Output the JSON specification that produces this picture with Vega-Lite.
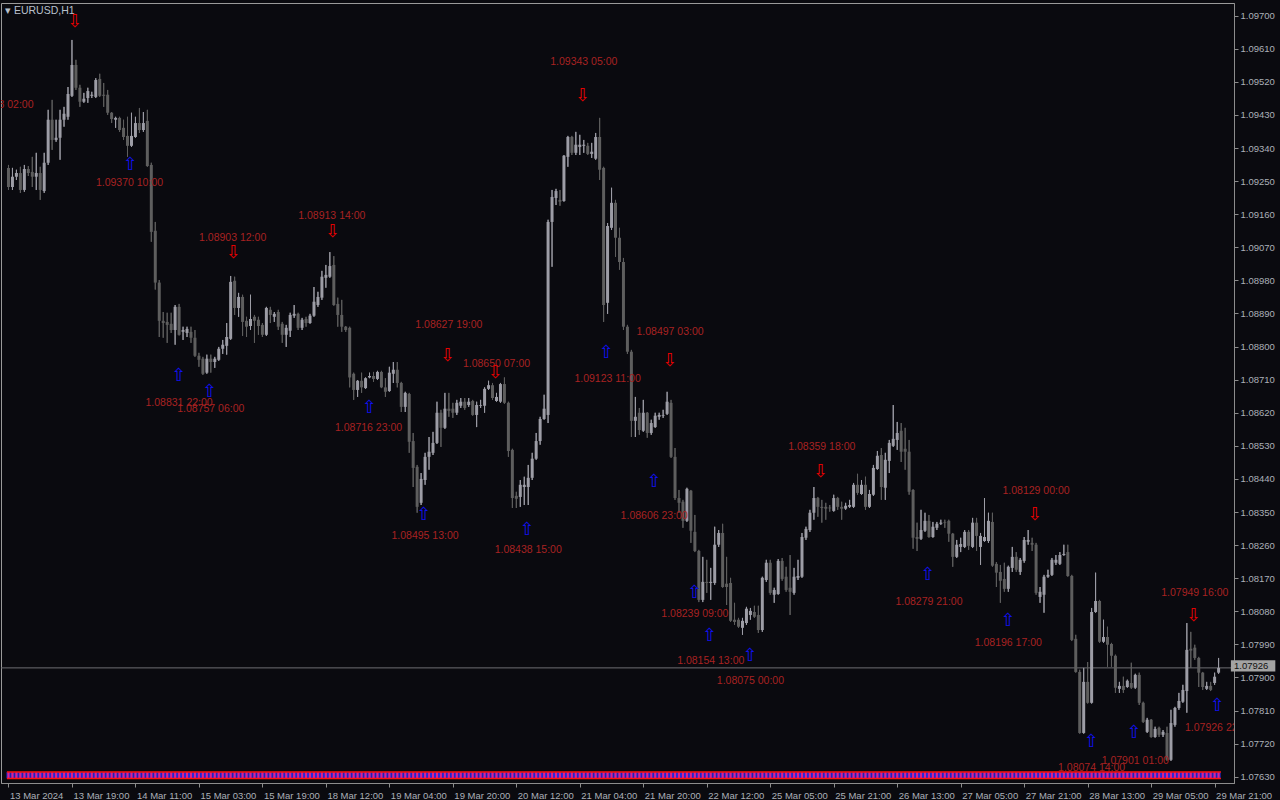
{
"$schema":"https://vega.github.io/schema/vega-lite/v6.json",
"width":1233,"height":780,
"autosize":"none",
"padding":{"left":1,"top":3,"right":46,"bottom":17},
"background":"#0a0a0f",
"title":{"text":"▾   EURUSD,H1","anchor":"start","frame":"group","orient":"top","offset":-18,"dx":4,"baseline":"middle","fontSize":10.5,"font":"Liberation Sans","fontWeight":"normal","color":"#b8c0cc"},
"config":{"view":{"stroke":"#9a9a9a","strokeWidth":1},"axis":{"grid":false,"domainColor":"#8c8c8c","tickColor":"#8c8c8c","labelColor":"#aab0b8","labelFont":"Liberation Sans","labelFontSize":9.5,"tickSize":4,"title":null,"labelOverlap":false}},
"datasets":{
"c":[
{"i":0,"o":1.09286,"h":1.09294,"l":1.09226,"c":1.09234},
{"i":1,"o":1.09234,"h":1.09286,"l":1.09226,"c":1.09262},
{"i":2,"o":1.09262,"h":1.09281,"l":1.09253,"c":1.09272},
{"i":3,"o":1.09272,"h":1.09289,"l":1.09218,"c":1.09226},
{"i":4,"o":1.09226,"h":1.09294,"l":1.09221,"c":1.09283},
{"i":5,"o":1.09283,"h":1.09291,"l":1.09264,"c":1.09272},
{"i":6,"o":1.09275,"h":1.09316,"l":1.09234,"c":1.09262},
{"i":7,"o":1.09262,"h":1.09327,"l":1.09226,"c":1.09272},
{"i":8,"o":1.09272,"h":1.09289,"l":1.09199,"c":1.09226},
{"i":9,"o":1.09223,"h":1.09327,"l":1.09218,"c":1.09300},
{"i":10,"o":1.09300,"h":1.09444,"l":1.09294,"c":1.09417},
{"i":11,"o":1.09417,"h":1.09471,"l":1.09335,"c":1.09362},
{"i":12,"o":1.09362,"h":1.09417,"l":1.09357,"c":1.09368},
{"i":13,"o":1.09368,"h":1.09444,"l":1.09308,"c":1.09417},
{"i":14,"o":1.09417,"h":1.09452,"l":1.09398,"c":1.09433},
{"i":15,"o":1.09425,"h":1.09506,"l":1.09417,"c":1.09487},
{"i":16,"o":1.09482,"h":1.09634,"l":1.09479,"c":1.09566},
{"i":17,"o":1.09566,"h":1.09580,"l":1.09498,"c":1.09504},
{"i":18,"o":1.09504,"h":1.09512,"l":1.09452,"c":1.09466},
{"i":19,"o":1.09466,"h":1.09490,"l":1.09463,"c":1.09474},
{"i":20,"o":1.09476,"h":1.09504,"l":1.09463,"c":1.09495},
{"i":21,"o":1.09482,"h":1.09493,"l":1.09476,"c":1.09485},
{"i":22,"o":1.09479,"h":1.09530,"l":1.09476,"c":1.09525},
{"i":23,"o":1.09528,"h":1.09542,"l":1.09479,"c":1.09482},
{"i":24,"o":1.09485,"h":1.09517,"l":1.09452,"c":1.09482},
{"i":25,"o":1.09485,"h":1.09498,"l":1.09430,"c":1.09436},
{"i":26,"o":1.09436,"h":1.09438,"l":1.09408,"c":1.09419},
{"i":27,"o":1.09417,"h":1.09425,"l":1.09395,"c":1.09422},
{"i":28,"o":1.09422,"h":1.09425,"l":1.09384,"c":1.09389},
{"i":29,"o":1.09395,"h":1.09417,"l":1.09362,"c":1.09370},
{"i":30,"o":1.09373,"h":1.09425,"l":1.09316,"c":1.09346},
{"i":31,"o":1.09346,"h":1.09436,"l":1.09343,"c":1.09373},
{"i":32,"o":1.09370,"h":1.09425,"l":1.09368,"c":1.09408},
{"i":33,"o":1.09408,"h":1.09449,"l":1.09381,"c":1.09389},
{"i":34,"o":1.09389,"h":1.09438,"l":1.09384,"c":1.09408},
{"i":35,"o":1.09414,"h":1.09444,"l":1.09289,"c":1.09291},
{"i":36,"o":1.09294,"h":1.09300,"l":1.09085,"c":1.09112},
{"i":37,"o":1.09115,"h":1.09139,"l":1.08955,"c":1.08974},
{"i":38,"o":1.08974,"h":1.08981,"l":1.08826,"c":1.08870},
{"i":39,"o":1.08870,"h":1.08894,"l":1.08824,"c":1.08864},
{"i":40,"o":1.08867,"h":1.08892,"l":1.08810,"c":1.08859},
{"i":41,"o":1.08862,"h":1.08892,"l":1.08837,"c":1.08845},
{"i":42,"o":1.08845,"h":1.08913,"l":1.08805,"c":1.08908},
{"i":43,"o":1.08908,"h":1.08916,"l":1.08830,"c":1.08832},
{"i":44,"o":1.08840,"h":1.08854,"l":1.08818,"c":1.08845},
{"i":45,"o":1.08837,"h":1.08854,"l":1.08826,"c":1.08848},
{"i":46,"o":1.08840,"h":1.08854,"l":1.08810,"c":1.08824},
{"i":47,"o":1.08824,"h":1.08845,"l":1.08772,"c":1.08775},
{"i":48,"o":1.08775,"h":1.08783,"l":1.08745,"c":1.08764},
{"i":49,"o":1.08767,"h":1.08772,"l":1.08723,"c":1.08726},
{"i":50,"o":1.08729,"h":1.08778,"l":1.08726,"c":1.08767},
{"i":51,"o":1.08767,"h":1.08778,"l":1.08729,"c":1.08758},
{"i":52,"o":1.08758,"h":1.08772,"l":1.08742,"c":1.08767},
{"i":53,"o":1.08764,"h":1.08799,"l":1.08761,"c":1.08794},
{"i":54,"o":1.08794,"h":1.08818,"l":1.08780,"c":1.08805},
{"i":55,"o":1.08802,"h":1.08864,"l":1.08778,"c":1.08826},
{"i":56,"o":1.08821,"h":1.08992,"l":1.08818,"c":1.08976},
{"i":57,"o":1.08979,"h":1.08990,"l":1.08886,"c":1.08905},
{"i":58,"o":1.08905,"h":1.08946,"l":1.08881,"c":1.08935},
{"i":59,"o":1.08935,"h":1.08941,"l":1.08829,"c":1.08867},
{"i":60,"o":1.08870,"h":1.08881,"l":1.08826,"c":1.08854},
{"i":61,"o":1.08856,"h":1.08941,"l":1.08845,"c":1.08875},
{"i":62,"o":1.08881,"h":1.08886,"l":1.08810,"c":1.08870},
{"i":63,"o":1.08873,"h":1.08881,"l":1.08832,"c":1.08856},
{"i":64,"o":1.08859,"h":1.08864,"l":1.08826,"c":1.08832},
{"i":65,"o":1.08832,"h":1.08908,"l":1.08829,"c":1.08905},
{"i":66,"o":1.08900,"h":1.08908,"l":1.08864,"c":1.08886},
{"i":67,"o":1.08881,"h":1.08894,"l":1.08867,"c":1.08889},
{"i":68,"o":1.08894,"h":1.08900,"l":1.08845,"c":1.08854},
{"i":69,"o":1.08862,"h":1.08867,"l":1.08810,"c":1.08832},
{"i":70,"o":1.08832,"h":1.08859,"l":1.08799,"c":1.08851},
{"i":71,"o":1.08843,"h":1.08892,"l":1.08826,"c":1.08886},
{"i":72,"o":1.08884,"h":1.08913,"l":1.08878,"c":1.08889},
{"i":73,"o":1.08889,"h":1.08892,"l":1.08845,"c":1.08851},
{"i":74,"o":1.08851,"h":1.08878,"l":1.08845,"c":1.08873},
{"i":75,"o":1.08875,"h":1.08881,"l":1.08854,"c":1.08864},
{"i":76,"o":1.08864,"h":1.08889,"l":1.08862,"c":1.08884},
{"i":77,"o":1.08884,"h":1.08962,"l":1.08881,"c":1.08922},
{"i":78,"o":1.08913,"h":1.08949,"l":1.08908,"c":1.08935},
{"i":79,"o":1.08933,"h":1.09006,"l":1.08927,"c":1.08990},
{"i":80,"o":1.08987,"h":1.09022,"l":1.08960,"c":1.08995},
{"i":81,"o":1.08990,"h":1.09057,"l":1.08987,"c":1.09019},
{"i":82,"o":1.09022,"h":1.09046,"l":1.08911,"c":1.08913},
{"i":83,"o":1.08916,"h":1.08933,"l":1.08854,"c":1.08886},
{"i":84,"o":1.08886,"h":1.08927,"l":1.08840,"c":1.08854},
{"i":85,"o":1.08854,"h":1.08856,"l":1.08840,"c":1.08845},
{"i":86,"o":1.08851,"h":1.08854,"l":1.08689,"c":1.08716},
{"i":87,"o":1.08726,"h":1.08729,"l":1.08655,"c":1.08682},
{"i":88,"o":1.08682,"h":1.08709,"l":1.08663,"c":1.08707},
{"i":89,"o":1.08707,"h":1.08729,"l":1.08674,"c":1.08689},
{"i":90,"o":1.08687,"h":1.08716,"l":1.08685,"c":1.08714},
{"i":91,"o":1.08716,"h":1.08729,"l":1.08714,"c":1.08720},
{"i":92,"o":1.08720,"h":1.08731,"l":1.08704,"c":1.08712},
{"i":93,"o":1.08712,"h":1.08734,"l":1.08709,"c":1.08731},
{"i":94,"o":1.08731,"h":1.08734,"l":1.08687,"c":1.08689},
{"i":95,"o":1.08689,"h":1.08714,"l":1.08663,"c":1.08677},
{"i":96,"o":1.08679,"h":1.08745,"l":1.08677,"c":1.08729},
{"i":97,"o":1.08726,"h":1.08758,"l":1.08701,"c":1.08737},
{"i":98,"o":1.08737,"h":1.08758,"l":1.08689,"c":1.08701},
{"i":99,"o":1.08701,"h":1.08704,"l":1.08622,"c":1.08636},
{"i":100,"o":1.08636,"h":1.08677,"l":1.08622,"c":1.08674},
{"i":101,"o":1.08671,"h":1.08674,"l":1.08511,"c":1.08541},
{"i":102,"o":1.08543,"h":1.08565,"l":1.08418,"c":1.08470},
{"i":103,"o":1.08473,"h":1.08478,"l":1.08348,"c":1.08364},
{"i":104,"o":1.08375,"h":1.08456,"l":1.08369,"c":1.08440},
{"i":105,"o":1.08437,"h":1.08511,"l":1.08424,"c":1.08500},
{"i":106,"o":1.08500,"h":1.08554,"l":1.08465,"c":1.08514},
{"i":107,"o":1.08511,"h":1.08568,"l":1.08505,"c":1.08538},
{"i":108,"o":1.08538,"h":1.08650,"l":1.08535,"c":1.08620},
{"i":109,"o":1.08620,"h":1.08628,"l":1.08527,"c":1.08579},
{"i":110,"o":1.08579,"h":1.08674,"l":1.08576,"c":1.08631},
{"i":111,"o":1.08631,"h":1.08674,"l":1.08609,"c":1.08625},
{"i":112,"o":1.08631,"h":1.08647,"l":1.08606,"c":1.08620},
{"i":113,"o":1.08620,"h":1.08655,"l":1.08614,"c":1.08647},
{"i":114,"o":1.08639,"h":1.08660,"l":1.08633,"c":1.08650},
{"i":115,"o":1.08650,"h":1.08660,"l":1.08628,"c":1.08633},
{"i":116,"o":1.08641,"h":1.08660,"l":1.08636,"c":1.08650},
{"i":117,"o":1.08652,"h":1.08655,"l":1.08612,"c":1.08614},
{"i":118,"o":1.08614,"h":1.08650,"l":1.08581,"c":1.08641},
{"i":119,"o":1.08639,"h":1.08655,"l":1.08633,"c":1.08641},
{"i":120,"o":1.08639,"h":1.08689,"l":1.08620,"c":1.08685},
{"i":121,"o":1.08685,"h":1.08707,"l":1.08682,"c":1.08695},
{"i":122,"o":1.08695,"h":1.08701,"l":1.08655,"c":1.08660},
{"i":123,"o":1.08652,"h":1.08674,"l":1.08650,"c":1.08663},
{"i":124,"o":1.08650,"h":1.08701,"l":1.08647,"c":1.08698},
{"i":125,"o":1.08698,"h":1.08716,"l":1.08644,"c":1.08647},
{"i":126,"o":1.08647,"h":1.08650,"l":1.08500,"c":1.08516},
{"i":127,"o":1.08519,"h":1.08522,"l":1.08361,"c":1.08388},
{"i":128,"o":1.08394,"h":1.08405,"l":1.08361,"c":1.08386},
{"i":129,"o":1.08391,"h":1.08437,"l":1.08364,"c":1.08424},
{"i":130,"o":1.08418,"h":1.08446,"l":1.08369,"c":1.08424},
{"i":131,"o":1.08418,"h":1.08478,"l":1.08369,"c":1.08443},
{"i":132,"o":1.08443,"h":1.08511,"l":1.08437,"c":1.08495},
{"i":133,"o":1.08495,"h":1.08565,"l":1.08492,"c":1.08543},
{"i":134,"o":1.08543,"h":1.08609,"l":1.08533,"c":1.08603},
{"i":135,"o":1.08603,"h":1.08669,"l":1.08601,"c":1.08631},
{"i":136,"o":1.08614,"h":1.09145,"l":1.08592,"c":1.09139},
{"i":137,"o":1.09139,"h":1.09226,"l":1.09017,"c":1.09207},
{"i":138,"o":1.09204,"h":1.09229,"l":1.09185,"c":1.09223},
{"i":139,"o":1.09199,"h":1.09226,"l":1.09183,"c":1.09194},
{"i":140,"o":1.09196,"h":1.09321,"l":1.09194,"c":1.09319},
{"i":141,"o":1.09316,"h":1.09373,"l":1.09289,"c":1.09370},
{"i":142,"o":1.09370,"h":1.09373,"l":1.09321,"c":1.09327},
{"i":143,"o":1.09327,"h":1.09384,"l":1.09321,"c":1.09349},
{"i":144,"o":1.09343,"h":1.09376,"l":1.09321,"c":1.09349},
{"i":145,"o":1.09346,"h":1.09362,"l":1.09327,"c":1.09349},
{"i":146,"o":1.09346,"h":1.09354,"l":1.09321,"c":1.09324},
{"i":147,"o":1.09324,"h":1.09354,"l":1.09313,"c":1.09330},
{"i":148,"o":1.09311,"h":1.09381,"l":1.09308,"c":1.09370},
{"i":149,"o":1.09370,"h":1.09422,"l":1.09253,"c":1.09281},
{"i":150,"o":1.09286,"h":1.09289,"l":1.08867,"c":1.08913},
{"i":151,"o":1.08919,"h":1.09136,"l":1.08889,"c":1.09128},
{"i":152,"o":1.09123,"h":1.09232,"l":1.09117,"c":1.09191},
{"i":153,"o":1.09191,"h":1.09199,"l":1.09044,"c":1.09096},
{"i":154,"o":1.09096,"h":1.09123,"l":1.09009,"c":1.09030},
{"i":155,"o":1.09030,"h":1.09041,"l":1.08845,"c":1.08854},
{"i":156,"o":1.08854,"h":1.08859,"l":1.08780,"c":1.08786},
{"i":157,"o":1.08786,"h":1.08791,"l":1.08554,"c":1.08598},
{"i":158,"o":1.08598,"h":1.08663,"l":1.08554,"c":1.08609},
{"i":159,"o":1.08620,"h":1.08633,"l":1.08560,"c":1.08573},
{"i":160,"o":1.08571,"h":1.08655,"l":1.08568,"c":1.08620},
{"i":161,"o":1.08620,"h":1.08622,"l":1.08552,"c":1.08565},
{"i":162,"o":1.08565,"h":1.08601,"l":1.08560,"c":1.08592},
{"i":163,"o":1.08581,"h":1.08620,"l":1.08579,"c":1.08612},
{"i":164,"o":1.08609,"h":1.08620,"l":1.08601,"c":1.08614},
{"i":165,"o":1.08612,"h":1.08628,"l":1.08606,"c":1.08614},
{"i":166,"o":1.08617,"h":1.08677,"l":1.08614,"c":1.08650},
{"i":167,"o":1.08647,"h":1.08655,"l":1.08497,"c":1.08500},
{"i":168,"o":1.08500,"h":1.08524,"l":1.08383,"c":1.08388},
{"i":169,"o":1.08388,"h":1.08410,"l":1.08348,"c":1.08375},
{"i":170,"o":1.08378,"h":1.08383,"l":1.08307,"c":1.08326},
{"i":171,"o":1.08326,"h":1.08416,"l":1.08323,"c":1.08413},
{"i":172,"o":1.08408,"h":1.08410,"l":1.08266,"c":1.08299},
{"i":173,"o":1.08296,"h":1.08342,"l":1.08241,"c":1.08244},
{"i":174,"o":1.08244,"h":1.08247,"l":1.08105,"c":1.08111},
{"i":175,"o":1.08111,"h":1.08228,"l":1.08105,"c":1.08160},
{"i":176,"o":1.08160,"h":1.08220,"l":1.08130,"c":1.08157},
{"i":177,"o":1.08157,"h":1.08198,"l":1.08111,"c":1.08160},
{"i":178,"o":1.08157,"h":1.08310,"l":1.08152,"c":1.08261},
{"i":179,"o":1.08261,"h":1.08301,"l":1.08255,"c":1.08293},
{"i":180,"o":1.08293,"h":1.08318,"l":1.08144,"c":1.08146},
{"i":181,"o":1.08155,"h":1.08228,"l":1.08097,"c":1.08146},
{"i":182,"o":1.08157,"h":1.08171,"l":1.08051,"c":1.08054},
{"i":183,"o":1.08057,"h":1.08103,"l":1.08043,"c":1.08051},
{"i":184,"o":1.08057,"h":1.08062,"l":1.08035,"c":1.08038},
{"i":185,"o":1.08035,"h":1.08062,"l":1.08016,"c":1.08054},
{"i":186,"o":1.08048,"h":1.08092,"l":1.08043,"c":1.08087},
{"i":187,"o":1.08070,"h":1.08089,"l":1.08057,"c":1.08081},
{"i":188,"o":1.08078,"h":1.08095,"l":1.08062,"c":1.08065},
{"i":189,"o":1.08070,"h":1.08095,"l":1.08021,"c":1.08029},
{"i":190,"o":1.08029,"h":1.08174,"l":1.08024,"c":1.08171},
{"i":191,"o":1.08165,"h":1.08220,"l":1.08160,"c":1.08212},
{"i":192,"o":1.08212,"h":1.08220,"l":1.08125,"c":1.08130},
{"i":193,"o":1.08125,"h":1.08144,"l":1.08103,"c":1.08138},
{"i":194,"o":1.08127,"h":1.08222,"l":1.08125,"c":1.08217},
{"i":195,"o":1.08217,"h":1.08225,"l":1.08163,"c":1.08168},
{"i":196,"o":1.08174,"h":1.08201,"l":1.08133,"c":1.08138},
{"i":197,"o":1.08144,"h":1.08233,"l":1.08070,"c":1.08133},
{"i":198,"o":1.08130,"h":1.08198,"l":1.08125,"c":1.08174},
{"i":199,"o":1.08171,"h":1.08220,"l":1.08165,"c":1.08176},
{"i":200,"o":1.08174,"h":1.08293,"l":1.08171,"c":1.08282},
{"i":201,"o":1.08280,"h":1.08310,"l":1.08274,"c":1.08304},
{"i":202,"o":1.08301,"h":1.08356,"l":1.08296,"c":1.08348},
{"i":203,"o":1.08348,"h":1.08418,"l":1.08329,"c":1.08388},
{"i":204,"o":1.08388,"h":1.08391,"l":1.08337,"c":1.08364},
{"i":205,"o":1.08364,"h":1.08383,"l":1.08321,"c":1.08361},
{"i":206,"o":1.08364,"h":1.08375,"l":1.08329,"c":1.08359},
{"i":207,"o":1.08362,"h":1.08369,"l":1.08351,"c":1.08360},
{"i":208,"o":1.08353,"h":1.08397,"l":1.08351,"c":1.08388},
{"i":209,"o":1.08388,"h":1.08391,"l":1.08356,"c":1.08364},
{"i":210,"o":1.08364,"h":1.08378,"l":1.08329,"c":1.08359},
{"i":211,"o":1.08359,"h":1.08375,"l":1.08356,"c":1.08367},
{"i":212,"o":1.08364,"h":1.08383,"l":1.08361,"c":1.08369},
{"i":213,"o":1.08364,"h":1.08429,"l":1.08361,"c":1.08424},
{"i":214,"o":1.08424,"h":1.08454,"l":1.08397,"c":1.08402},
{"i":215,"o":1.08399,"h":1.08437,"l":1.08397,"c":1.08424},
{"i":216,"o":1.08424,"h":1.08446,"l":1.08356,"c":1.08364},
{"i":217,"o":1.08364,"h":1.08410,"l":1.08361,"c":1.08399},
{"i":218,"o":1.08397,"h":1.08478,"l":1.08394,"c":1.08470},
{"i":219,"o":1.08467,"h":1.08516,"l":1.08465,"c":1.08503},
{"i":220,"o":1.08505,"h":1.08524,"l":1.08383,"c":1.08418},
{"i":221,"o":1.08416,"h":1.08511,"l":1.08383,"c":1.08492},
{"i":222,"o":1.08489,"h":1.08546,"l":1.08456,"c":1.08538},
{"i":223,"o":1.08530,"h":1.08641,"l":1.08527,"c":1.08549},
{"i":224,"o":1.08546,"h":1.08595,"l":1.08519,"c":1.08565},
{"i":225,"o":1.08571,"h":1.08592,"l":1.08486,"c":1.08514},
{"i":226,"o":1.08522,"h":1.08579,"l":1.08465,"c":1.08514},
{"i":227,"o":1.08514,"h":1.08546,"l":1.08397,"c":1.08405},
{"i":228,"o":1.08410,"h":1.08412,"l":1.08250,"c":1.08280},
{"i":229,"o":1.08282,"h":1.08321,"l":1.08244,"c":1.08277},
{"i":230,"o":1.08277,"h":1.08356,"l":1.08274,"c":1.08301},
{"i":231,"o":1.08299,"h":1.08348,"l":1.08296,"c":1.08326},
{"i":232,"o":1.08326,"h":1.08342,"l":1.08280,"c":1.08282},
{"i":233,"o":1.08282,"h":1.08323,"l":1.08280,"c":1.08310},
{"i":234,"o":1.08307,"h":1.08323,"l":1.08301,"c":1.08318},
{"i":235,"o":1.08318,"h":1.08329,"l":1.08315,"c":1.08321},
{"i":236,"o":1.08323,"h":1.08329,"l":1.08307,"c":1.08321},
{"i":237,"o":1.08326,"h":1.08329,"l":1.08269,"c":1.08291},
{"i":238,"o":1.08291,"h":1.08293,"l":1.08201,"c":1.08228},
{"i":239,"o":1.08228,"h":1.08274,"l":1.08225,"c":1.08261},
{"i":240,"o":1.08255,"h":1.08280,"l":1.08241,"c":1.08263},
{"i":241,"o":1.08255,"h":1.08301,"l":1.08252,"c":1.08296},
{"i":242,"o":1.08296,"h":1.08301,"l":1.08247,"c":1.08258},
{"i":243,"o":1.08255,"h":1.08334,"l":1.08252,"c":1.08321},
{"i":244,"o":1.08321,"h":1.08334,"l":1.08244,"c":1.08285},
{"i":245,"o":1.08255,"h":1.08293,"l":1.08206,"c":1.08285},
{"i":246,"o":1.08271,"h":1.08388,"l":1.08269,"c":1.08282},
{"i":247,"o":1.08271,"h":1.08348,"l":1.08266,"c":1.08326},
{"i":248,"o":1.08323,"h":1.08348,"l":1.08201,"c":1.08204},
{"i":249,"o":1.08209,"h":1.08214,"l":1.08146,"c":1.08185},
{"i":250,"o":1.08187,"h":1.08206,"l":1.08103,"c":1.08163},
{"i":251,"o":1.08168,"h":1.08212,"l":1.08133,"c":1.08141},
{"i":252,"o":1.08141,"h":1.08204,"l":1.08133,"c":1.08201},
{"i":253,"o":1.08198,"h":1.08255,"l":1.08187,"c":1.08228},
{"i":254,"o":1.08228,"h":1.08241,"l":1.08187,"c":1.08193},
{"i":255,"o":1.08187,"h":1.08225,"l":1.08179,"c":1.08220},
{"i":256,"o":1.08217,"h":1.08282,"l":1.08212,"c":1.08274},
{"i":257,"o":1.08269,"h":1.08301,"l":1.08261,"c":1.08274},
{"i":258,"o":1.08266,"h":1.08280,"l":1.08244,"c":1.08261},
{"i":259,"o":1.08261,"h":1.08266,"l":1.08125,"c":1.08130},
{"i":260,"o":1.08119,"h":1.08146,"l":1.08103,"c":1.08133},
{"i":261,"o":1.08125,"h":1.08179,"l":1.08076,"c":1.08174},
{"i":262,"o":1.08174,"h":1.08193,"l":1.08171,"c":1.08179},
{"i":263,"o":1.08179,"h":1.08225,"l":1.08176,"c":1.08220},
{"i":264,"o":1.08212,"h":1.08233,"l":1.08206,"c":1.08220},
{"i":265,"o":1.08209,"h":1.08241,"l":1.08206,"c":1.08233},
{"i":266,"o":1.08233,"h":1.08261,"l":1.08231,"c":1.08236},
{"i":267,"o":1.08241,"h":1.08261,"l":1.08174,"c":1.08176},
{"i":268,"o":1.08176,"h":1.08179,"l":1.07999,"c":1.08002},
{"i":269,"o":1.08005,"h":1.08016,"l":1.07913,"c":1.07915},
{"i":270,"o":1.07915,"h":1.07921,"l":1.07747,"c":1.07749},
{"i":271,"o":1.07749,"h":1.07926,"l":1.07747,"c":1.07888},
{"i":272,"o":1.07888,"h":1.07942,"l":1.07829,"c":1.07831},
{"i":273,"o":1.07831,"h":1.08089,"l":1.07829,"c":1.08078},
{"i":274,"o":1.08078,"h":1.08185,"l":1.08076,"c":1.08108},
{"i":275,"o":1.08108,"h":1.08111,"l":1.07994,"c":1.07997},
{"i":276,"o":1.07997,"h":1.08057,"l":1.07994,"c":1.08010},
{"i":277,"o":1.08010,"h":1.08038,"l":1.07929,"c":1.07989},
{"i":278,"o":1.07991,"h":1.07994,"l":1.07929,"c":1.07959},
{"i":279,"o":1.07959,"h":1.07962,"l":1.07858,"c":1.07872},
{"i":280,"o":1.07869,"h":1.07888,"l":1.07858,"c":1.07877},
{"i":281,"o":1.07877,"h":1.07902,"l":1.07858,"c":1.07866},
{"i":282,"o":1.07874,"h":1.07894,"l":1.07872,"c":1.07891},
{"i":283,"o":1.07885,"h":1.07940,"l":1.07869,"c":1.07872},
{"i":284,"o":1.07872,"h":1.07910,"l":1.07869,"c":1.07907},
{"i":285,"o":1.07907,"h":1.07913,"l":1.07825,"c":1.07831},
{"i":286,"o":1.07831,"h":1.07834,"l":1.07776,"c":1.07779},
{"i":287,"o":1.07752,"h":1.07790,"l":1.07749,"c":1.07785},
{"i":288,"o":1.07785,"h":1.07787,"l":1.07736,"c":1.07738},
{"i":289,"o":1.07738,"h":1.07766,"l":1.07736,"c":1.07760},
{"i":290,"o":1.07763,"h":1.07766,"l":1.07738,"c":1.07744},
{"i":291,"o":1.07744,"h":1.07757,"l":1.07738,"c":1.07752},
{"i":292,"o":1.07749,"h":1.07766,"l":1.07673,"c":1.07676},
{"i":293,"o":1.07676,"h":1.07812,"l":1.07673,"c":1.07776},
{"i":294,"o":1.07771,"h":1.07820,"l":1.07766,"c":1.07817},
{"i":295,"o":1.07817,"h":1.07858,"l":1.07812,"c":1.07836},
{"i":296,"o":1.07834,"h":1.07880,"l":1.07831,"c":1.07866},
{"i":297,"o":1.07863,"h":1.08048,"l":1.07804,"c":1.07975},
{"i":298,"o":1.07978,"h":1.08024,"l":1.07926,"c":1.07973},
{"i":299,"o":1.07981,"h":1.07989,"l":1.07948,"c":1.07953},
{"i":300,"o":1.07953,"h":1.07956,"l":1.07874,"c":1.07913},
{"i":301,"o":1.07913,"h":1.07915,"l":1.07866,"c":1.07874},
{"i":302,"o":1.07869,"h":1.07888,"l":1.07866,"c":1.07877},
{"i":303,"o":1.07877,"h":1.07888,"l":1.07863,"c":1.07866},
{"i":304,"o":1.07885,"h":1.07913,"l":1.07880,"c":1.07902},
{"i":305,"o":1.07913,"h":1.07953,"l":1.07910,"c":1.07926}
],
"lab":[
{"i":30.5,"p":1.09245,"t":"1.09370 10:00"},
{"i":56.5,"p":1.09096,"t":"1.08903 12:00"},
{"i":81.5,"p":1.09155,"t":"1.08913 14:00"},
{"i":43,"p":1.08647,"t":"1.08831 22:00"},
{"i":51,"p":1.08631,"t":"1.08757 06:00"},
{"i":90.75,"p":1.08579,"t":"1.08716 23:00"},
{"i":111,"p":1.08859,"t":"1.08627 19:00"},
{"i":123,"p":1.08753,"t":"1.08650 07:00"},
{"i":105,"p":1.08285,"t":"1.08495 13:00"},
{"i":131,"p":1.08247,"t":"1.08438 15:00"},
{"i":145,"p":1.09574,"t":"1.09343 05:00"},
{"i":151,"p":1.08712,"t":"1.09123 11:00"},
{"i":166.75,"p":1.0884,"t":"1.08497 03:00"},
{"i":162.75,"p":1.08339,"t":"1.08606 23:00"},
{"i":173,"p":1.08073,"t":"1.08239 09:00"},
{"i":177,"p":1.07945,"t":"1.08154 13:00"},
{"i":187,"p":1.07891,"t":"1.08075 00:00"},
{"i":205,"p":1.08527,"t":"1.08359 18:00"},
{"i":232,"p":1.08105,"t":"1.08279 21:00"},
{"i":252,"p":1.07994,"t":"1.08196 17:00"},
{"i":259,"p":1.08408,"t":"1.08129 00:00"},
{"i":273,"p":1.07654,"t":"1.08074 14:00"},
{"i":284,"p":1.07673,"t":"1.07901 01:00"},
{"i":299,"p":1.0813,"t":"1.07949 16:00"},
{"i":305,"p":1.07763,"t":"1.07926 22:00"},
{"i":-2.15,"p":1.09457,"t":"1.09558 02:00"}
],
"arr":[
{"i":16.75,"p":1.09683,"g":"⇩"},
{"i":56.75,"p":1.09055,"g":"⇩"},
{"i":81.75,"p":1.09112,"g":"⇩"},
{"i":110.75,"p":1.08775,"g":"⇩"},
{"i":122.75,"p":1.08729,"g":"⇩"},
{"i":144.75,"p":1.09482,"g":"⇩"},
{"i":166.75,"p":1.08761,"g":"⇩"},
{"i":204.75,"p":1.08459,"g":"⇩"},
{"i":258.75,"p":1.08343,"g":"⇩"},
{"i":298.75,"p":1.08068,"g":"⇩"},
{"i":30.75,"p":1.09294,"g":"⇧"},
{"i":43,"p":1.0872,"g":"⇧"},
{"i":50.75,"p":1.08677,"g":"⇧"},
{"i":91,"p":1.08633,"g":"⇧"},
{"i":104.75,"p":1.08343,"g":"⇧"},
{"i":130.75,"p":1.08301,"g":"⇧"},
{"i":150.75,"p":1.08783,"g":"⇧"},
{"i":162.75,"p":1.08432,"g":"⇧"},
{"i":173,"p":1.0813,"g":"⇧"},
{"i":176.75,"p":1.08013,"g":"⇧"},
{"i":187,"p":1.07959,"g":"⇧"},
{"i":231.75,"p":1.08179,"g":"⇧"},
{"i":252,"p":1.08054,"g":"⇧"},
{"i":273,"p":1.07725,"g":"⇧"},
{"i":283.75,"p":1.07749,"g":"⇧"},
{"i":304.75,"p":1.07823,"g":"⇧"}
],
"cur":[{"p":1.07926,"t":"1.07926"}],
"strip":[{"a":1.07643},{"a":1.07625}]
},
"layer":[
{"data":{"name":"c"},"mark":{"type":"rule","strokeWidth":1},
 "encoding":{
  "x":{"field":"i","type":"quantitative","scale":{"domain":[-0.625,307.625],"nice":false,"zero":false},
   "axis":{"values":[0,16,32,48,64,80,96,112,128,144,160,176,192,208,224,240,256,272,288,304],"tickCount":60,
    "labelExpr":"['13 Mar 2024','13 Mar 19:00','14 Mar 11:00','15 Mar 03:00','15 Mar 19:00','18 Mar 12:00','19 Mar 04:00','19 Mar 20:00','20 Mar 12:00','21 Mar 04:00','21 Mar 20:00','22 Mar 12:00','25 Mar 05:00','25 Mar 21:00','26 Mar 13:00','27 Mar 05:00','27 Mar 21:00','28 Mar 13:00','29 Mar 05:00','29 Mar 21:00'][round(datum.value/16)]",
    "labelAlign":"left","labelOffset":1,"labelPadding":3,"labelBaseline":"top","labelOverlap":false,"labelFlush":false,"labelBound":false,"tickSize":4,"title":null}},
  "y":{"field":"l","type":"quantitative","scale":{"domain":[1.076129,1.097345],"nice":false,"zero":false},
   "axis":{"orient":"right","values":[1.0763,1.0772,1.0781,1.079,1.0799,1.0808,1.0817,1.0826,1.0835,1.0844,1.0853,1.0862,1.0871,1.088,1.0889,1.0898,1.0907,1.0916,1.0925,1.0934,1.0943,1.0952,1.0961,1.097],"tickCount":60,
    "format":".5f","tickSize":4,"labelPadding":2,"labelOverlap":false,"labelFlush":false,"labelBound":false,"labelBaseline":"middle","title":null}},
  "y2":{"field":"h"},
  "color":{"condition":{"test":"datum.c>=datum.o","value":"#9d9da6"},"value":"#5e5e5e"}}},
{"data":{"name":"c"},"mark":{"type":"bar","size":4,"color":"#2a2ad8"},
 "encoding":{"x":{"field":"i","type":"quantitative","scale":{"domain":[-0.625,307.625],"nice":false,"zero":false}},
  "y":{"datum":1.07642,"type":"quantitative","scale":{"domain":[1.076129,1.097345],"nice":false,"zero":false}},"y2":{"datum":1.07626}}},
{"data":{"name":"c"},"mark":{"type":"bar","size":2,"color":"#e0208c"},
 "encoding":{"x":{"field":"i","type":"quantitative","scale":{"domain":[-0.625,307.625],"nice":false,"zero":false}},
  "y":{"datum":1.07642,"type":"quantitative","scale":{"domain":[1.076129,1.097345],"nice":false,"zero":false}},"y2":{"datum":1.07626}}},
{"data":{"name":"strip"},"mark":{"type":"rule","color":"#ff1010","strokeWidth":1.5},
 "encoding":{"x":{"datum":-0.4,"type":"quantitative","scale":{"domain":[-0.625,307.625],"nice":false,"zero":false}},"x2":{"datum":305.6},
  "y":{"field":"a","type":"quantitative","scale":{"domain":[1.076129,1.097345],"nice":false,"zero":false}}}},
{"data":{"name":"cur"},"mark":{"type":"rule","color":"#6e6e72","strokeWidth":1},
 "encoding":{"y":{"field":"p","type":"quantitative","scale":{"domain":[1.076129,1.097345],"nice":false,"zero":false}}}},
{"data":{"name":"c"},"mark":{"type":"rule","strokeWidth":1},
 "encoding":{
  "x":{"field":"i","type":"quantitative","scale":{"domain":[-0.625,307.625],"nice":false,"zero":false}},
  "y":{"field":"l","type":"quantitative","scale":{"domain":[1.076129,1.097345],"nice":false,"zero":false}},
  "y2":{"field":"h"},
  "color":{"condition":{"test":"datum.c>=datum.o","value":"#9d9da6"},"value":"#5e5e5e"}}},
{"data":{"name":"c"},"mark":{"type":"bar","size":3,"minBandSize":1},
 "encoding":{
  "x":{"field":"i","type":"quantitative","scale":{"domain":[-0.625,307.625],"nice":false,"zero":false}},
  "y":{"field":"o","type":"quantitative","scale":{"domain":[1.076129,1.097345],"nice":false,"zero":false}},
  "y2":{"field":"c"},
  "color":{"condition":{"test":"datum.c>=datum.o","value":"#9d9da6"},"value":"#5e5e5e"}}},
{"data":{"name":"lab"},"mark":{"type":"text","color":"#a82222","font":"Liberation Sans","fontSize":10.5,"clip":true,"baseline":"middle","align":"center"},
 "encoding":{
  "x":{"field":"i","type":"quantitative","scale":{"domain":[-0.625,307.625],"nice":false,"zero":false}},
  "y":{"field":"p","type":"quantitative","scale":{"domain":[1.076129,1.097345],"nice":false,"zero":false}},
  "text":{"field":"t"}}},
{"data":{"name":"arr"},"mark":{"type":"text","font":"DejaVu Sans","fontSize":18,"baseline":"middle","align":"center"},
 "encoding":{
  "x":{"field":"i","type":"quantitative","scale":{"domain":[-0.625,307.625],"nice":false,"zero":false}},
  "y":{"field":"p","type":"quantitative","scale":{"domain":[1.076129,1.097345],"nice":false,"zero":false}},
  "text":{"field":"g"},
  "color":{"condition":{"test":"datum.g=='⇩'","value":"#e60000"},"value":"#1010f0"}}},
{"data":{"name":"cur"},"mark":{"type":"rect","color":"#a3a3a3"},
 "encoding":{
  "x":{"datum":308.1,"type":"quantitative","scale":{"domain":[-0.625,307.625],"nice":false,"zero":false}},"x2":{"datum":319.3},
  "y":{"datum":1.07947,"type":"quantitative","scale":{"domain":[1.076129,1.097345],"nice":false,"zero":false}},"y2":{"datum":1.07916}}},
{"data":{"name":"cur"},"mark":{"type":"text","color":"#111111","font":"Liberation Sans","fontSize":9.5,"align":"left","baseline":"middle"},
 "encoding":{
  "x":{"datum":308.9,"type":"quantitative","scale":{"domain":[-0.625,307.625],"nice":false,"zero":false}},
  "y":{"datum":1.07931,"type":"quantitative","scale":{"domain":[1.076129,1.097345],"nice":false,"zero":false}},
  "text":{"field":"t"}}}
]
}
